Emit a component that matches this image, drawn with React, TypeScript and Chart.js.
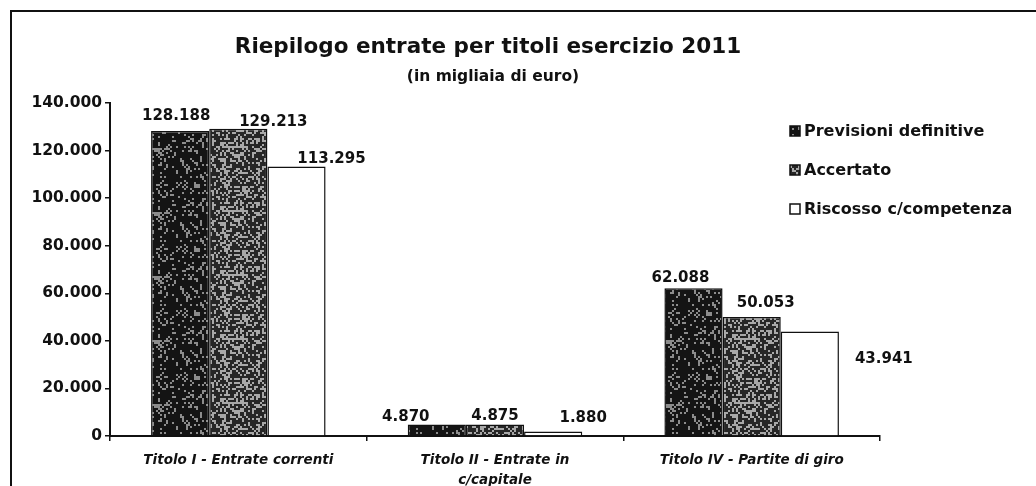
import React, { useEffect, useRef } from "react";
import { Chart, registerables } from "chart.js";

Chart.register(...registerables);

// ---- data ----
const categories: (string | string[])[] = [
  "Titolo I - Entrate correnti",
  ["Titolo II - Entrate in", "c/capitale"],
  "Titolo IV - Partite di giro",
];
const seriesNames = ["Previsioni definitive", "Accertato", "Riscosso c/competenza"];
const previsioniDefinitive = [128188, 4870, 62088];
const accertato = [129213, 4875, 50053];
const riscossoCompetenza = [113295, 1880, 43941];
const yTickValues = [0, 20000, 40000, 60000, 80000, 100000, 120000, 140000];

const chartTitle = "Riepilogo entrate per titoli esercizio 2011";
const chartSubtitle = "(in migliaia di euro)";

const FONT = "'DejaVu Sans', Verdana, sans-serif";
const INK = "#111111";

const fmt = (v: number) => String(Math.round(v)).replace(/\B(?=(\d{3})+(?!\d))/g, ".");

function hash(x: number, y: number, s: number) {
  let h = (x * 1597 + y * 51749 + s * 244369) | 0;
  h = Math.imul(h ^ (h >>> 15), 0x2c1b3c6d);
  h = Math.imul(h ^ (h >>> 12), 0x297a2d39);
  h ^= h >>> 15;
  return (h >>> 0) / 4294967296;
}

function makeSpeckle(dark: string, light: string, density: number, seed: number) {
  const c = document.createElement("canvas");
  c.width = 64;
  c.height = 64;
  const g = c.getContext("2d")!;
  g.fillStyle = dark;
  g.fillRect(0, 0, 64, 64);
  g.fillStyle = light;
  for (let y = 0; y < 64; y += 2) {
    for (let x = 0; x < 64; x += 2) {
      if (hash(x, y, seed) < density) g.fillRect(x, y, 2, 2);
    }
  }
  return g.createPattern(c, "repeat")!;
}

// label offsets (style only): [dx, dy] from top-centre of each bar
const labelShift = [
  [[-4, -15], [-31, -7], [-13, -10]],
  [[35, -7], [0, -8], [14, -14]],
  [[35, -7], [30, -13], [74, 28]],
];

const overlayPlugin = {
  id: "overlay",
  afterDraw(chart: any) {
    const ctx = chart.ctx as CanvasRenderingContext2D;
    ctx.save();
    ctx.fillStyle = INK;
    ctx.textAlign = "center";
    ctx.textBaseline = "middle";
    ctx.font = `bold 21.5px ${FONT}`;
    ctx.fillText(chartTitle, 488, 47);
    ctx.font = `bold 15.5px ${FONT}`;
    ctx.fillText(chartSubtitle, 493, 77);

    // data labels
    ctx.font = `bold 15px ${FONT}`;
    chart.data.datasets.forEach((ds: any, i: number) => {
      const meta = chart.getDatasetMeta(i);
      meta.data.forEach((el: any, j: number) => {
        const [dx, dy] = labelShift[i][j];
        ctx.fillText(fmt(ds.data[j]), el.x + dx, el.y + dy);
      });
    });

    // legend
    ctx.textAlign = "left";
    ctx.font = `bold 16px ${FONT}`;
    chart.data.datasets.forEach((ds: any, i: number) => {
      const y = 131 + i * 39;
      ctx.fillStyle = ds.backgroundColor;
      ctx.fillRect(790, y - 5, 10, 10);
      ctx.strokeStyle = INK;
      ctx.lineWidth = 1.5;
      ctx.strokeRect(790, y - 5, 10, 10);
      ctx.fillStyle = INK;
      ctx.fillText(ds.label, 804, y + 1);
    });
    ctx.restore();
  },
};

export default function App() {
  const ref = useRef<HTMLCanvasElement | null>(null);

  useEffect(() => {
    if (!ref.current) return;
    const fill1 = makeSpeckle("#141414", "#8c8c8c", 0.2, 1);
    const fill2 = makeSpeckle("#262626", "#a8a8a8", 0.36, 2);
    const chart = new Chart(ref.current, {
      type: "bar",
      data: {
        labels: categories,
        datasets: [
          {
            label: seriesNames[0],
            data: previsioniDefinitive,
            backgroundColor: fill1 as any,
            borderColor: INK,
            borderWidth: 1.5,
          },
          {
            label: seriesNames[1],
            data: accertato,
            backgroundColor: fill2 as any,
            borderColor: INK,
            borderWidth: 1.5,
          },
          {
            label: seriesNames[2],
            data: riscossoCompetenza,
            backgroundColor: "#ffffff",
            borderColor: INK,
            borderWidth: 1.5,
          },
        ],
      },
      options: {
        animation: false,
        responsive: false,
        maintainAspectRatio: false,
        datasets: { bar: { categoryPercentage: 0.68, barPercentage: 1 } },
        layout: { padding: { left: 0, top: 103, right: 156, bottom: 0 } },
        plugins: {
          legend: { display: false },
          title: { display: false },
          tooltip: { enabled: false },
        },
        scales: {
          x: {
            grid: {
              display: true,
              drawOnChartArea: false,
              drawTicks: true,
              tickLength: 5,
              color: INK,
              lineWidth: 1.5,
            },
            border: { display: true, color: INK, width: 2 },
            ticks: {
              color: INK,
              font: { family: FONT, size: 13.5, weight: "bold", style: "italic", lineHeight: 1.45 },
              padding: 10,
              maxRotation: 0,
              autoSkip: false,
            },
            afterFit: (s: any) => {
              s.height = 50;
            },
          },
          y: {
            min: 0,
            max: 140000,
            afterBuildTicks: (s: any) => {
              s.ticks = yTickValues.map((v) => ({ value: v }));
            },
            ticks: {
              color: INK,
              font: { family: FONT, size: 15.5, weight: "bold" },
              padding: 3,
              callback: (v: any) => fmt(Number(v)),
            },
            grid: {
              display: true,
              drawOnChartArea: false,
              drawTicks: true,
              tickLength: 5,
              color: INK,
              lineWidth: 1.5,
            },
            border: { display: true, color: INK, width: 2 },
            afterFit: (s: any) => {
              s.width = 110;
            },
          },
        },
      },
      plugins: [overlayPlugin],
    });
    return () => chart.destroy();
  }, []);

  return (
    <div
      style={{
        position: "fixed",
        left: 0,
        top: 0,
        width: 1036,
        height: 486,
        overflow: "hidden",
        background: "#ffffff",
      }}
    >
      <div
        style={{
          position: "absolute",
          left: 10,
          top: 10,
          width: 1100,
          height: 600,
          borderTop: `2px solid ${INK}`,
          borderLeft: `2px solid ${INK}`,
        }}
      />
      <canvas
        ref={ref}
        width={1036}
        height={486}
        style={{ position: "absolute", left: 0, top: 0, width: 1036, height: 486 }}
      />
    </div>
  );
}
